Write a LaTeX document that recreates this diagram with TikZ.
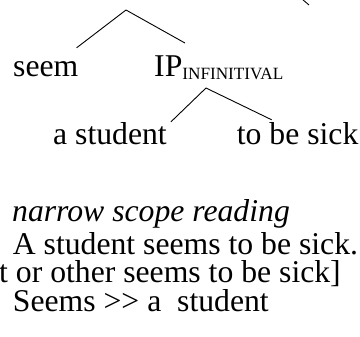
\documentclass[tikz,border=0pt]{standalone}
\usepackage{fontspec}
\setmainfont{Liberation Serif}
\usepackage{xcolor}
\usepackage{tikz}

\begin{document}
\begin{tikzpicture}[x=1pt,y=-1pt,
		branch/.style={line width=0.9pt},
		word/.style={anchor=base west,inner sep=0pt,font=\fontsize{31.7}{36}\selectfont}]
		\useasboundingbox (0,0) rectangle (360,337);
		\clip (0,0) rectangle (360,337);
		\coordinate (top) at (126,10);
		\node[word] (seem) at (13,77) {seem};
		\node[word] (ip) at (154,77) {IP\raisebox{-2.5pt}{\fontsize{17.2}{20}\selectfont INFINITIVAL}};
		\coordinate (iptop) at ([xshift=52pt,yshift=-11pt]ip.base west);
		\node[word] (subj) at (53,145) {a student};
		\node[word] (pred) at (236.7,145) {to be sick};
		\draw[branch] (top) -- ([xshift=-2pt,yshift=14pt]seem.north east);
		\draw[branch] (top) -- ([xshift=31pt,yshift=13pt]ip.north west);
		\draw[branch] (iptop) -- ([xshift=4pt,yshift=1pt]subj.north east);
		\draw[branch] (iptop) -- ([xshift=35pt,yshift=3pt]pred.north west);
		\draw[branch] (302,-1) -- (309,5);
		\node[word] (reading) at (12,222) {\itshape narrow scope reading};
		\node[word] (line1) at (12.7,255) {A student seems to be sick.};
		\node[word] (line2) at (-1,283) {t or other seems to be sick]};
		\node[word] (line3) at (12.7,312) {Seems >\kern0pt> a\ \ student};
	\end{tikzpicture}
\end{document}
